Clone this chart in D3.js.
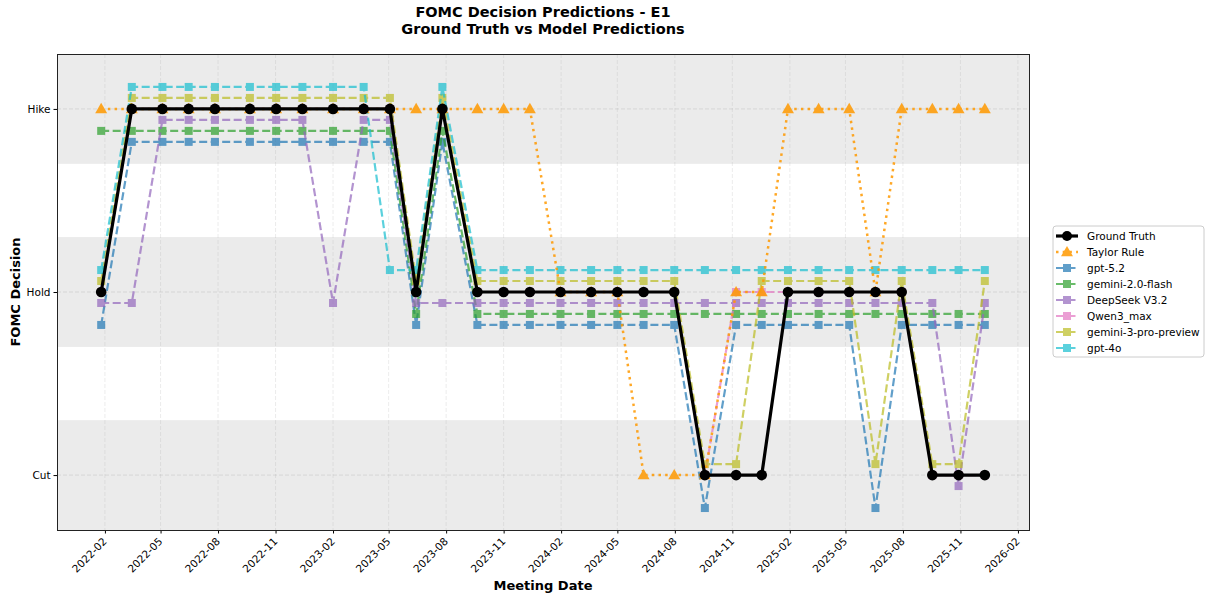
<!DOCTYPE html>
<html>
<head>
<meta charset="utf-8">
<script src="https://cdn.jsdelivr.net/npm/d3@7"></script>
<style>
  body { margin: 0; background: #fff; font-family: "DejaVu Sans", sans-serif; }
  text { font-family: "DejaVu Sans", sans-serif; }
</style>
</head>
<body>
<div class="container"></div>
<script>
// FOMC meeting dates
const meetingDates = ["2022-01-26","2022-03-16","2022-05-04","2022-06-15","2022-07-27","2022-09-21","2022-11-02","2022-12-14",
  "2023-02-01","2023-03-22","2023-05-03","2023-06-14","2023-07-26","2023-09-20","2023-11-01","2023-12-13",
  "2024-01-31","2024-03-20","2024-05-01","2024-06-12","2024-07-31","2024-09-18","2024-11-07","2024-12-18",
  "2025-01-29","2025-03-19","2025-05-07","2025-06-18","2025-07-30","2025-09-17","2025-10-29","2025-12-10"];

// 1 = Hike, 0 = Hold, -1 = Cut
const groundTruth = [0,1,1,1,1,1,1,1,1,1,1,0,1,0,0,0,0,0,0,0,0,-1,-1,-1,0,0,0,0,0,-1,-1,-1];
const taylorRule  = [1,1,1,1,1,1,1,1,1,1,1,1,1,1,1,1,0,0,0,-1,-1,-1,0,0,1,1,1,0,1,1,1,1];
const gpt52       = [0,1,1,1,1,1,1,1,1,1,1,0,1,0,0,0,0,0,0,0,0,-1,0,0,0,0,0,-1,0,0,0,0];
const gemini20    = [1,1,1,1,1,1,1,1,1,1,1,0,1,0,0,0,0,0,0,0,0,0,0,0,0,0,0,0,0,0,0,0];
const deepseek    = [0,0,1,1,1,1,1,1,0,1,1,0,0,0,0,0,0,0,0,0,0,0,0,0,0,0,0,0,0,0,-1,0];
const qwen3max    = [0,1,1,1,1,1,1,1,1,1,1,0,1,0,0,0,0,0,0,0,0,-1,0,0,0,0,0,0,0,-1,-1,-1];
const gemini3pro  = [0,1,1,1,1,1,1,1,1,1,1,0,1,0,0,0,0,0,0,0,0,-1,-1,0,0,0,0,-1,0,-1,-1,0];
const gpt4o       = [0,1,1,1,1,1,1,1,1,1,0,0,1,0,0,0,0,0,0,0,0,0,0,0,0,0,0,0,0,0,0,0];

const modelNames  = ["gpt-5.2","gemini-2.0-flash","DeepSeek V3.2","Qwen3_max","gemini-3-pro-preview","gpt-4o"];
const modelValues = [gpt52, gemini20, deepseek, qwen3max, gemini3pro, gpt4o];
const modelColors = ["#1f77b4","#2ca02c","#9467bd","#e377c2","#bcbd22","#17becf"];

const decisionLabels = ["Cut","Hold","Hike"];
const decisionValues = [-1, 0, 1];
const xTickLabels = ["2022-02","2022-05","2022-08","2022-11","2023-02","2023-05","2023-08","2023-11",
  "2024-02","2024-05","2024-08","2024-11","2025-02","2025-05","2025-08","2025-11","2026-02"];

const width = 1208, height = 597;
const margin = {left: 57, right: 179, top: 54, bottom: 67};
const parse = d3.timeParse("%Y-%m-%d");
const parseMonth = d3.timeParse("%Y-%m");
const dates = meetingDates.map(parse);

const svg = d3.select(".container").append("svg")
  .attr("width", width).attr("height", height);

// 5% padding on both sides of the dates
const dMin = d3.min(dates), dMax = d3.max(dates);
const pad = (dMax - dMin) * 0.05;
const x = d3.scaleTime()
  .domain([new Date(+dMin - pad), new Date(+dMax + pad)])
  .range([margin.left, width - margin.right]);
const y = d3.scaleLinear()
  .domain([-1.3, 1.3])
  .range([height - margin.bottom, margin.top]);

// shaded bands
[[0.7, 1.3], [-0.3, 0.3], [-1.3, -0.7]].forEach(b => {
  svg.append("rect")
    .attr("x", x.range()[0]).attr("width", x.range()[1] - x.range()[0])
    .attr("y", y(b[1])).attr("height", y(b[0]) - y(b[1]))
    .attr("fill", "#ebebeb");
});

// grid
const xTicks = xTickLabels.map(parseMonth);
svg.append("g").selectAll("line").data(xTicks).enter().append("line")
  .attr("x1", d => x(d)).attr("x2", d => x(d))
  .attr("y1", y.range()[1]).attr("y2", y.range()[0])
  .attr("stroke", "#b0b0b0").attr("stroke-opacity", 0.3)
  .attr("stroke-dasharray", "4,2").attr("stroke-width", 0.8);
svg.append("g").selectAll("line").data(decisionValues).enter().append("line")
  .attr("x1", x.range()[0]).attr("x2", x.range()[1])
  .attr("y1", d => y(d)).attr("y2", d => y(d))
  .attr("stroke", "#b0b0b0").attr("stroke-opacity", 0.45)
  .attr("stroke-dasharray", "4,2").attr("stroke-width", 0.8);

const line = d3.line().x(d => x(d.date)).y(d => y(d.v));

// models, offset so they don't overlap
modelValues.forEach((vals, i) => {
  const off = (i - 3) * 0.06;
  const pts = vals.map((v, j) => ({date: dates[j], v: v + off}));
  const g = svg.append("g").attr("opacity", 0.7);
  g.append("path").datum(pts)
    .attr("d", line).attr("fill", "none")
    .attr("stroke", modelColors[i]).attr("stroke-width", 2.2)
    .attr("stroke-dasharray", "8,3.5");
  g.selectAll("rect").data(pts).enter().append("rect")
    .attr("x", d => x(d.date) - 4).attr("y", d => y(d.v) - 4)
    .attr("width", 8).attr("height", 8)
    .attr("fill", modelColors[i]);
});

// Taylor rule
const tPts = taylorRule.map((v, j) => ({date: dates[j], v: v}));
const tg = svg.append("g").attr("opacity", 0.85);
tg.append("path").datum(tPts)
  .attr("d", line).attr("fill", "none")
  .attr("stroke", "#ff9900").attr("stroke-width", 2.5)
  .attr("stroke-dasharray", "2.5,4.2");
const tri = d3.symbol().type(d3.symbolTriangle).size(62);
tg.selectAll(".tri").data(tPts).enter().append("path")
  .attr("d", tri)
  .attr("transform", d => `translate(${x(d.date)},${y(d.v) + 0.8})`)
  .attr("fill", "#ff9900");

// ground truth
const gPts = groundTruth.map((v, j) => ({date: dates[j], v: v}));
svg.append("path").datum(gPts)
  .attr("d", line).attr("fill", "none")
  .attr("stroke", "black").attr("stroke-width", 3.2);
svg.selectAll(".gt").data(gPts).enter().append("circle")
  .attr("cx", d => x(d.date)).attr("cy", d => y(d.v)).attr("r", 5.3)
  .attr("fill", "black");

// axes
const xAxis = d3.axisBottom(x).tickValues(xTicks).tickFormat(d3.timeFormat("%Y-%m")).tickSizeOuter(0).tickSize(3.5);
const gx = svg.append("g")
  .attr("transform", `translate(0,${y.range()[0]})`)
  .call(xAxis);
gx.selectAll("text")
  .style("font-size", "10.5px").attr("fill", "#000")
  .attr("text-anchor", "end")
  .attr("transform", "translate(-7,3) rotate(-45)")
  .attr("dy", "0.75em").attr("y", 5).attr("x", 0);
gx.select(".domain").remove();

const yAxis = d3.axisLeft(y).tickValues(decisionValues).tickFormat((d, i) => decisionLabels[i]).tickSizeOuter(0).tickSize(3.5);
const gy = svg.append("g")
  .attr("transform", `translate(${x.range()[0]},0)`)
  .call(yAxis);
gy.selectAll("text").style("font-size", "10.5px").attr("fill", "#000");
gy.select(".domain").remove();

// frame
svg.append("rect")
  .attr("x", x.range()[0] + 0.5).attr("y", y.range()[1] + 0.5)
  .attr("width", x.range()[1] - x.range()[0]).attr("height", y.range()[0] - y.range()[1])
  .attr("fill", "none").attr("stroke", "#222").attr("stroke-width", 1);

// titles
const cx = (x.range()[0] + x.range()[1]) / 2;
svg.append("text").attr("x", cx).attr("y", 17).attr("text-anchor", "middle")
  .style("font-size", "14.5px").style("font-weight", "bold").text("FOMC Decision Predictions - E1");
svg.append("text").attr("x", cx).attr("y", 34).attr("text-anchor", "middle")
  .style("font-size", "14.5px").style("font-weight", "bold").text("Ground Truth vs Model Predictions");
svg.append("text").attr("x", cx).attr("y", 590).attr("text-anchor", "middle")
  .style("font-size", "13px").style("font-weight", "bold").text("Meeting Date");
svg.append("text").attr("transform", `translate(20,${(y.range()[0] + y.range()[1]) / 2}) rotate(-90)`)
  .attr("text-anchor", "middle")
  .style("font-size", "13px").style("font-weight", "bold").text("FOMC Decision");

// legend
const legend = svg.append("g").attr("transform", "translate(1053,226)");
legend.append("rect").attr("width", 151).attr("height", 131).attr("rx", 3)
  .attr("fill", "white").attr("stroke", "#cccccc");
const items = [{name: "Ground Truth", color: "black", kind: "gt"},
  {name: "Taylor Rule", color: "#ff9900", kind: "taylor"}]
  .concat(modelNames.map((n, i) => ({name: n, color: modelColors[i], kind: "model"})));
items.forEach((it, i) => {
  const yy = 10 + i * 16;
  const g = legend.append("g").attr("transform", `translate(0,${yy})`);
  const mk = g.append("g");
  const l = mk.append("line").attr("x1", 3).attr("x2", 25).attr("y1", 0).attr("y2", 0)
    .attr("stroke", it.color);
  if (it.kind === "gt") {
    l.attr("stroke-width", 3.2);
    mk.append("circle").attr("cx", 14).attr("cy", 0).attr("r", 5).attr("fill", "black");
  } else if (it.kind === "taylor") {
    mk.attr("opacity", 0.85);
    l.attr("stroke-width", 2.5).attr("stroke-dasharray", "2.5,4.2");
    mk.append("path").attr("d", tri).attr("transform", "translate(14,0.8)").attr("fill", it.color);
  } else {
    mk.attr("opacity", 0.7);
    l.attr("stroke-width", 2.2).attr("stroke-dasharray", "8,3.5");
    mk.append("rect").attr("x", 10).attr("y", -4).attr("width", 8).attr("height", 8).attr("fill", it.color);
  }
  g.append("text").attr("x", 34).attr("y", 0).attr("dy", "0.35em")
    .style("font-size", "10.5px").text(it.name);
});
</script>
</body>
</html>
